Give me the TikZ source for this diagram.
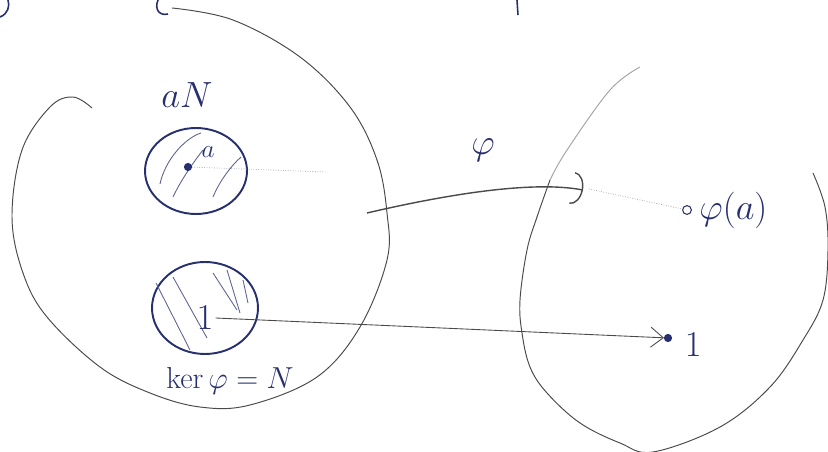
\documentclass[tikz,border=0pt]{standalone}
\usetikzlibrary{arrows.meta, positioning, shapes.geometric, calc}
\definecolor{cink}{HTML}{27306E}
\definecolor{cpencil}{HTML}{4A4A4A}
\tikzset{
  every picture/.style={line width=0.6pt},
  blob/.style={draw=cpencil, line width=0.55pt},
  coset/.style={draw=cink, ellipse, line width=1.1pt, inner sep=0pt},
  hatch/.style={draw=cink!75, line width=0.5pt},
  lbl/.style={text=cink, font=\huge, inner sep=1pt},
  pt/.style={circle, draw=cink, fill=cink, inner sep=0pt, minimum size=4pt},
  maparrow/.style={-{Arc Barb[length=2.2mm, width=6.5mm]}, draw=cpencil, line width=0.8pt},
  faint/.style={draw=cpencil!55, line width=0.4pt, densely dotted},
}
\begin{document}
\begin{tikzpicture}[x=0.02cm, y=-0.02cm]
  \useasboundingbox (0,0) rectangle (828,452);
  % cut-off strokes at the top edge
  \draw[cink, line width=0.9pt] (0,17) .. controls (8,14) and (10,6) .. (8,0);
  \draw[cink, line width=0.9pt] (158,0) .. controls (154,10) and (160,16) .. (168,14);
  \draw[cink, line width=0.9pt] (517,0) -- (518,15);
  % the two groups
  \draw[blob] plot[smooth, tension=0.6] coordinates {(92,108) (73,97) (50,107) (22,150) (12,217) (23,273)
    (47,317) (100,367) (150,393) (200,407) (250,405) (317,377) (360,327) (387,260) (387,213)
    (377,160) (350,107) (300,57) (233,20) (172,8)};
  \draw[blob, draw=cpencil!50] plot[smooth, tension=0.6] coordinates {(640,67) (610,90) (567,150) (550,180)};
  \draw[blob] plot[smooth, tension=0.6] coordinates {(550,180) (537,217) (527,250) (520,300) (522,333)
    (530,367) (547,393) (580,423) (620,443) (653,452) (720,427) (770,387) (803,340) (823,300)
    (828,250) (825,207) (813,173)};
  % coset aN
  \node[coset, minimum width=2.04cm, minimum height=1.72cm] (aN) at (196,171) {};
  \node[lbl] (aNl) at (187,95) {$aN$};
  \draw[hatch] (160,184) .. controls (165,160) and (185,138) .. (201,133);
  \draw[hatch] (173,197) .. controls (180,182) and (192,164) .. (203,150);
  \draw[hatch] (213,197) .. controls (220,180) and (232,165) .. (241,157);
  \node[pt] (a) at (188,167) {};
  \node[lbl, font=\Large] (al) at (208,152) {$a$};
  % kernel N
  \node[coset, minimum width=2.12cm, minimum height=1.84cm] (N) at (205,308) {};
  \foreach \xa/\ya/\xb/\yb in {156/283/190/350, 173/277/207/338, 213/273/237/310,
                               227/270/240/313, 243/280/248/303} {
    \draw[hatch] (\xa,\ya) -- (\xb,\yb);
  }
  \node[lbl] (e) at (205,318) {$1$};
  \node[lbl, font=\LARGE] (kerl) at (230,381) {$\ker\varphi=N$};
  % images
  \node[pt, fill=white, minimum size=5pt] (pa) at (687,210) {};
  \node[lbl, right=3pt of pa] (pal) {$\varphi(a)$};
  \node[pt, minimum size=4pt] (one) at (668,338) {};
  \node[lbl, right=6pt of one, yshift=-4pt] (onel) {$1$};
  % the map
  \coordinate (phiS) at (367,213);
  \coordinate (phiE) at (583,190);
  \draw[maparrow] (phiS) .. controls (440,196) and (530,180) .. (phiE);
  \node[lbl] (phil) at (483,150) {$\varphi$};
  \draw[faint] (a) -- (327,172);
  \draw[faint] (phiE) ++(6,-1) -- (pa);
  \draw[-{Straight Barb[length=2.5mm, width=4mm]}, draw=cpencil, line width=0.5pt] (e.east) -- (one);
\end{tikzpicture}
\end{document}
